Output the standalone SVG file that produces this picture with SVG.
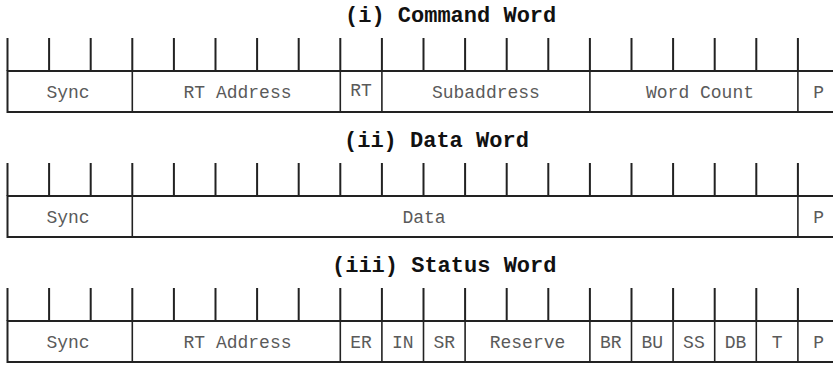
<svg xmlns="http://www.w3.org/2000/svg" xmlns:xlink="http://www.w3.org/1999/xlink" width="833" height="366" viewBox="0 0 833 366">
  <style>
    .title { font-family: "Liberation Mono", "Courier New", monospace; font-weight: bold; font-size: 22px; fill: #111; }
    .lbl { font-family: "Liberation Mono", "Courier New", monospace; font-size: 18px; fill: #5a5a5a; text-anchor: middle; }
    .frame { fill: #fff; stroke: #222; stroke-width: 2; }
    .div { stroke: #222; stroke-width: 1.6; }
    .tick { stroke: #222; stroke-width: 2; fill: none; }
  </style>
  <defs>
    <!-- 20 bit-time ticks standing on top of a word frame, 33px tall -->
    <path id="ticks" class="tick" d="M7.5 0V33 M49.1 0V33 M90.7 0V33 M132.3 0V33 M173.9 0V33 M215.5 0V33 M257.1 0V33 M298.7 0V33 M340.3 0V33 M381.9 0V33 M423.5 0V33 M465.1 0V33 M506.7 0V33 M548.3 0V33 M589.9 0V33 M631.5 0V33 M673.1 0V33 M714.7 0V33 M756.3 0V33 M797.9 0V33"/>
  </defs>
  <rect width="833" height="366" fill="#fff"/>

  <!-- (i) Command Word -->
  <g id="command-word">
    <text class="title" x="345" y="22">(i) Command Word</text>
    <use xlink:href="#ticks" y="38"/>
    <rect class="frame" x="7.5" y="71" width="832" height="41"/>
    <g id="cw-sync"><text class="lbl" x="68" y="98">Sync</text></g>
    <g id="cw-rt-address"><line class="div" x1="132.3" y1="71" x2="132.3" y2="112"/><text class="lbl" x="237.5" y="98">RT Address</text></g>
    <g id="cw-rt"><line class="div" x1="340.3" y1="71" x2="340.3" y2="112"/><text class="lbl" x="361.1" y="96">RT</text></g>
    <g id="cw-subaddress"><line class="div" x1="381.9" y1="71" x2="381.9" y2="112"/><text class="lbl" x="485.9" y="98">Subaddress</text></g>
    <g id="cw-word-count"><line class="div" x1="589.9" y1="71" x2="589.9" y2="112"/><text class="lbl" x="700" y="98">Word Count</text></g>
    <g id="cw-parity"><line class="div" x1="797.9" y1="71" x2="797.9" y2="112"/><text class="lbl" x="818.7" y="98">P</text></g>
  </g>

  <!-- (ii) Data Word -->
  <g id="data-word">
    <text class="title" x="344" y="147">(ii) Data Word</text>
    <use xlink:href="#ticks" y="163"/>
    <rect class="frame" x="7.5" y="196" width="832" height="41"/>
    <g id="dw-sync"><text class="lbl" x="68" y="223">Sync</text></g>
    <g id="dw-data"><line class="div" x1="132.3" y1="196" x2="132.3" y2="237"/><text class="lbl" x="424" y="223">Data</text></g>
    <g id="dw-parity"><line class="div" x1="797.9" y1="196" x2="797.9" y2="237"/><text class="lbl" x="818.7" y="223">P</text></g>
  </g>

  <!-- (iii) Status Word -->
  <g id="status-word">
    <text class="title" x="332" y="272">(iii) Status Word</text>
    <use xlink:href="#ticks" y="288"/>
    <rect class="frame" x="7.5" y="321" width="832" height="41"/>
    <g id="sw-sync"><text class="lbl" x="68" y="348">Sync</text></g>
    <g id="sw-rt-address"><line class="div" x1="132.3" y1="321" x2="132.3" y2="362"/><text class="lbl" x="237.5" y="348">RT Address</text></g>
    <g id="sw-er"><line class="div" x1="340.3" y1="321" x2="340.3" y2="362"/><text class="lbl" x="361.1" y="348">ER</text></g>
    <g id="sw-in"><line class="div" x1="381.9" y1="321" x2="381.9" y2="362"/><text class="lbl" x="402.7" y="348">IN</text></g>
    <g id="sw-sr"><line class="div" x1="423.5" y1="321" x2="423.5" y2="362"/><text class="lbl" x="444.3" y="348">SR</text></g>
    <g id="sw-reserve"><line class="div" x1="465.1" y1="321" x2="465.1" y2="362"/><text class="lbl" x="527.5" y="348">Reserve</text></g>
    <g id="sw-br"><line class="div" x1="589.9" y1="321" x2="589.9" y2="362"/><text class="lbl" x="610.7" y="348">BR</text></g>
    <g id="sw-bu"><line class="div" x1="631.5" y1="321" x2="631.5" y2="362"/><text class="lbl" x="652.3" y="348">BU</text></g>
    <g id="sw-ss"><line class="div" x1="673.1" y1="321" x2="673.1" y2="362"/><text class="lbl" x="693.9" y="348">SS</text></g>
    <g id="sw-db"><line class="div" x1="714.7" y1="321" x2="714.7" y2="362"/><text class="lbl" x="735.5" y="348">DB</text></g>
    <g id="sw-t"><line class="div" x1="756.3" y1="321" x2="756.3" y2="362"/><text class="lbl" x="777.1" y="348">T</text></g>
    <g id="sw-parity"><line class="div" x1="797.9" y1="321" x2="797.9" y2="362"/><text class="lbl" x="818.7" y="348">P</text></g>
  </g>
</svg>
